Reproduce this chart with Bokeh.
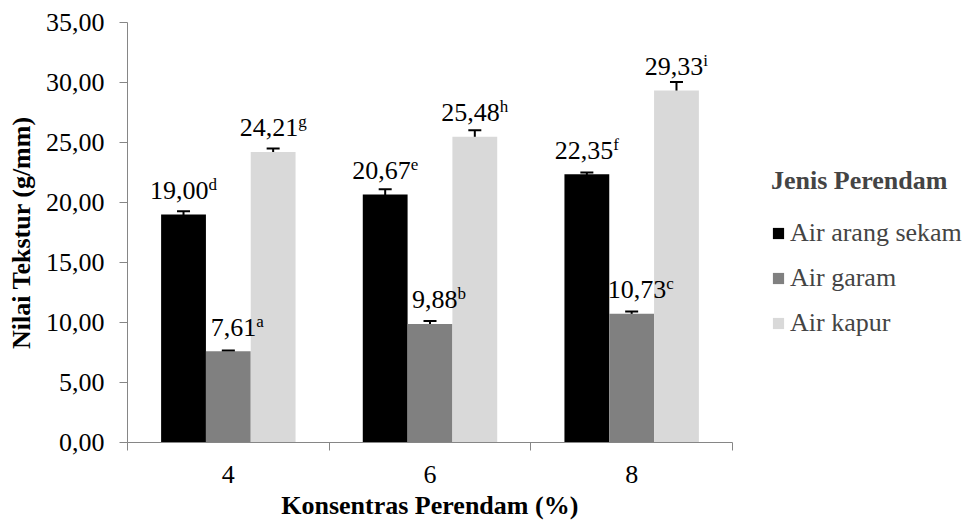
from bokeh.plotting import figure
from bokeh.models import (ColumnDataSource, FixedTicker, Whisker, TeeHead, Legend,
                          LegendItem, Range1d, Title)
from bokeh.core.properties import value
from bokeh.embed import file_html
from bokeh.resources import INLINE

# ---------------- data ----------------
categories = ["4", "6", "8"]
series_names = ["Air arang sekam", "Air garam", "Air kapur"]
arang = [19.00, 20.67, 22.35]
garam = [7.61, 9.88, 10.73]
kapur = [24.21, 25.48, 29.33]
arang_err = [0.28, 0.44, 0.16]
garam_err = [0.05, 0.25, 0.18]
kapur_err = [0.30, 0.54, 0.72]
arang_sup = ["d", "e", "f"]
garam_sup = ["a", "b", "c"]
kapur_sup = ["g", "h", "i"]
y_ticks = [0, 5, 10, 15, 20, 25, 30, 35]
y_tick_labels = ["0,00", "5,00", "10,00", "15,00", "20,00", "25,00", "30,00", "35,00"]
x_title = "Konsentras Perendam (%)"
y_title = "Nilai Tekstur (g/mm)"
legend_title = "Jenis Perendam"

# ---------------- style ----------------
FONT = "'Liberation Serif', 'Times New Roman', 'DejaVu Serif', serif"
FS = 26
SUP_FS = 17
colors = ["#000000", "#808080", "#d9d9d9"]
label_shift = [0, 9, 0]              # px sideways nudge of each series' value labels
axis_col = "#868686"
BAR_W = 1.0 / 4.5
offsets = [-BAR_W, 0.0, BAR_W]
n = len(categories)
W, H = 966, 526
FRAME_L, CHART_R = 127, 732          # px: bar area ends at CHART_R, frame runs on for legend
x_end = n * (W - FRAME_L) / (CHART_R - FRAME_L)

# Times-like advance widths (em) for centring label + superscript
char_w = {",": 0.25, "a": 0.444, "b": 0.5, "c": 0.444, "d": 0.5, "e": 0.444,
          "f": 0.333, "g": 0.5, "h": 0.5, "i": 0.278}
# Times-Bold widths for centring the x title under the bar area
bold_w = {"K": 0.778, "o": 0.5, "n": 0.556, "s": 0.389, "e": 0.444, "t": 0.333,
          "r": 0.444, "a": 0.5, " ": 0.25, "P": 0.611, "d": 0.556, "m": 0.833,
          "(": 0.333, "%": 1.0, ")": 0.333}

p = figure(width=W, height=H, output_backend="svg", toolbar_location=None,
           x_range=Range1d(0, x_end), y_range=Range1d(0, 35),
           min_border_left=FRAME_L, min_border_right=0, min_border_top=22,
           min_border_bottom=83)
p.outline_line_color = None
p.grid.visible = False
p.background_fill_color = "white"
p.border_fill_color = "white"

all_vals = [arang, garam, kapur]
all_errs = [arang_err, garam_err, kapur_err]
all_sups = [arang_sup, garam_sup, kapur_sup]

sources = []
renderers = []
for k, (vals, errs, sups) in enumerate(zip(all_vals, all_errs, all_sups)):
    xs = [i + 0.5 + offsets[k] for i in range(n)]
    main = [f"{v:.2f}".replace(".", ",") for v in vals]
    w_main = [FS * sum(char_w.get(c, 0.5) for c in t) for t in main]
    w_sup = [SUP_FS * char_w.get(s, 0.5) for s in sups]
    xo = [(wm - ws) / 2.0 + label_shift[k] for wm, ws in zip(w_main, w_sup)]
    src = ColumnDataSource(dict(
        x=xs, top=vals, upper=[v + e for v, e in zip(vals, errs)],
        lower=[v - e for v, e in zip(vals, errs)], label=main, sup=sups, xo=xo))
    sources.append(src)
    r = p.vbar(x="x", top="top", bottom=0, width=BAR_W, source=src,
               fill_color=colors[k], line_color=None)
    renderers.append(r)

for src in sources:
    wh = Whisker(base="x", upper="upper", lower="lower", source=src,
                 dimension="height", line_color="black", line_width=2,
                 upper_head=TeeHead(size=13, line_color="black", line_width=2),
                 lower_head=TeeHead(size=13, line_color="black", line_width=2))
    p.add_layout(wh)
    p.text(x="x", y="top", text="label", source=src, x_offset="xo", y_offset=-24,
           text_align="right", text_baseline="alphabetic",
           text_font=value(FONT), text_font_size=f"{FS}px", text_color="black")
    p.text(x="x", y="top", text="sup", source=src, x_offset="xo", y_offset=-30,
           text_align="left", text_baseline="alphabetic",
           text_font=value(FONT), text_font_size=f"{SUP_FS}px", text_color="black")

# ---------------- axes ----------------
yax = p.yaxis[0]
yax.ticker = FixedTicker(ticks=y_ticks)
yax.major_label_overrides = {t: l for t, l in zip(y_ticks, y_tick_labels)}
yax.axis_line_color = axis_col
yax.major_tick_line_color = axis_col
yax.major_tick_out = 8
yax.major_tick_in = 0
yax.minor_tick_line_color = None
yax.major_label_standoff = 15
yax.major_label_text_font = FONT
yax.major_label_text_font_size = f"{FS}px"
yax.major_label_text_color = "black"
yax.axis_label = y_title
yax.axis_label_text_font = FONT
yax.axis_label_text_font_style = "bold"
yax.axis_label_text_font_size = f"{FS}px"
yax.axis_label_text_color = "black"
yax.axis_label_standoff = 7

xax = p.xaxis[0]
centers = [i + 0.5 for i in range(n)]
xax.bounds = (0, n)
xax.ticker = FixedTicker(ticks=centers, minor_ticks=list(range(n + 1)))
xax.major_label_overrides = {c: l for c, l in zip(centers, categories)}
xax.axis_line_color = axis_col
xax.major_tick_line_color = None
xax.major_tick_out = 0
xax.major_tick_in = 0
xax.minor_tick_line_color = axis_col
xax.minor_tick_out = 8
xax.minor_tick_in = 0
xax.major_label_standoff = 15
xax.major_label_text_font = FONT
xax.major_label_text_font_size = f"{FS}px"
xax.major_label_text_color = "black"

# x title centred under the bar area (not the whole frame)
title_w = FS * sum(bold_w.get(c, 0.5) for c in x_title)
xt = Title(text=x_title, align="left", offset=(CHART_R - FRAME_L) / 2 - title_w / 2,
           text_font=FONT, text_font_style="bold", text_font_size=f"{FS}px",
           text_color="black", vertical_align="top", standoff=10)
p.add_layout(xt, "below")

# ---------------- legend ----------------
legend = Legend(items=[LegendItem(label=s, renderers=[r]) for s, r in zip(series_names, renderers)],
                location=(644, 104), title=legend_title,
                title_text_font=FONT, title_text_font_style="bold",
                title_text_font_size=f"{FS}px", title_standoff=22,
                label_text_font=FONT, label_text_font_size=f"{FS}px",
                glyph_width=14, glyph_height=14, label_height=26, spacing=15,
                label_standoff=5, padding=4, margin=0,
                border_line_color=None, background_fill_alpha=0)
p.add_layout(legend, "center")

open("out.html", "w").write(file_html(p, INLINE))
